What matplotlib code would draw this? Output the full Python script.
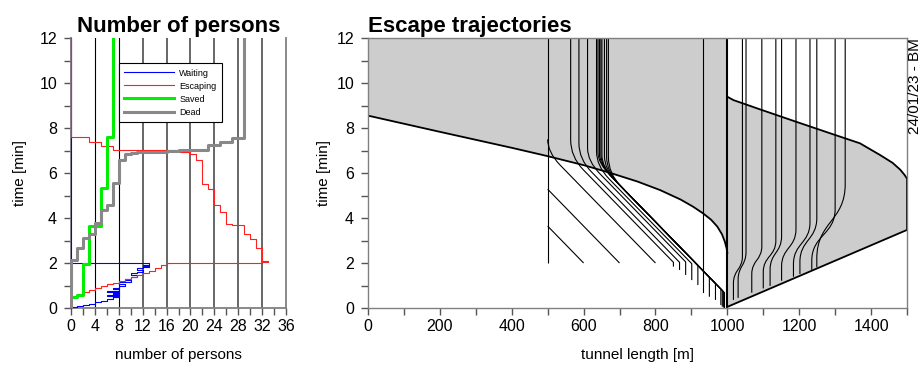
import matplotlib
matplotlib.use('Agg')
import matplotlib.pyplot as plt
from matplotlib.path import Path
from matplotlib.patches import PathPatch
from matplotlib.lines import Line2D
from matplotlib.ticker import MultipleLocator

plt.rcParams['font.family'] = ['Liberation Sans', 'DejaVu Sans']

# ---- number of persons: times [min] where the count changes, new count
wait_t = [0.00, 0.03, 0.08, 0.13, 0.20, 0.27, 0.33, 0.40, 0.47, 0.52, 0.56, 0.62, 0.66,
          0.72, 0.76, 0.84, 0.88, 0.98, 1.05, 1.17, 1.24, 1.30, 1.39, 1.47, 1.55, 1.62,
          1.70, 1.78, 1.84, 1.88, 1.93, 2.00, 12.0]
wait_n = [0, 1, 2, 3, 4, 5, 6, 7, 8, 6, 8, 7, 8,
          6, 8, 7, 8, 9, 8, 10, 9, 10, 11, 10, 11, 12,
          11, 12, 13, 12, 13, 0, 0]

esc_t = [0.00, 0.52, 0.62, 0.72, 0.80, 0.88, 0.96, 1.05, 1.12, 1.20, 1.30, 1.38, 1.47,
         1.55, 1.66, 1.80, 1.92, 2.00, 2.04, 2.10, 2.67, 3.08, 3.30, 3.67, 3.75, 4.27,
         4.56, 5.30, 5.50, 6.56, 6.83, 6.93, 7.04, 7.20, 7.38, 7.58, 12.0]
esc_n = [0, 1, 2, 3, 4, 5, 6, 7, 8, 9, 10, 11, 12,
         13, 14, 15, 16, 32, 33, 32, 31, 30, 29, 27, 26, 25,
         24, 23, 22, 21, 20, 18, 7, 5, 3, 0, 0]

saved_t = [0.00, 0.49, 0.60, 1.97, 3.64, 5.33, 7.60, 12.0]
saved_n = [0, 1, 2, 3, 5, 6, 7, 7]

dead_t = [0.00, 2.15, 2.68, 3.13, 3.30, 3.78, 4.34, 4.60, 5.55, 6.56, 6.86, 6.90,
          6.93, 6.98, 7.04, 7.23, 7.38, 7.57, 12.0]
dead_n = [0, 1, 2, 3, 4, 5, 6, 7, 8, 9, 10, 11, 16, 18, 23, 25, 27, 29, 29]

# ---- escape trajectories: smoke fronts [m], [min]
smoke_l_x = [0, 200, 400, 497, 600, 673, 750, 813, 870, 905, 933, 955, 972, 985, 993,
             998, 1000]
smoke_l_t = [8.55, 7.83, 7.12, 6.76, 6.35, 6.01, 5.62, 5.24, 4.82, 4.50, 4.20, 3.92,
             3.62, 3.28, 2.95, 2.65, 2.45]
smoke_r_x = [1000, 1017, 1096, 1191, 1300, 1369, 1425, 1460, 1481, 1493, 1500]
smoke_r_t = [9.39, 9.24, 8.80, 8.28, 7.69, 7.32, 6.80, 6.45, 6.15, 5.92, 5.75]
smoke_r_low_x = [1500, 1500, 1000]
smoke_r_low_t = [5.75, 3.47, 0.05]

# persons walking towards x = 500 m
walk_x0 = [500, 600, 700, 800, 850, 867, 884, 901, 918, 950, 967, 982, 986, 989, 992]
walk_t_app = [2.00, 2.00, 2.00, 2.00, 1.84, 1.69, 1.47, 1.24, 1.02, 0.50, 0.36, 0.13,
              0.06, 0.02, 0.00]
walk_t_go = [2.00, 2.00, 2.00, 2.00, 2.03, 2.03, 2.05, 1.97, 1.89, 1.37, 1.09, 0.84,
             0.78, 0.73, 0.68]
walk_x_stop = [500, 500, 500, 500, 564, 587, 611, 636, 640, 644, 648, 651, 658, 664, 669]
walk_t_corner = [2.00, 3.64, 5.28, 6.92, 6.72, 6.62, 6.53, 6.31, 6.45, 6.39, 6.32, 6.27,
                 6.16, 6.06, 5.98]
walk_t_stop = [2.00, 3.64, 5.28, 7.50, 7.47, 7.32, 7.10, 6.95, 6.90, 6.86, 6.82, 6.78,
               6.75, 6.72, 6.70]
walk_t_end = [12.0, 3.64, 5.28, 7.50, 12.0, 12.0, 12.0, 12.0, 12.0, 12.0, 12.0, 12.0,
              12.0, 12.0, 12.0]
stay_x = [933, 1000]
stay_t0 = [0.73, 0.0]

# persons beyond the portal (x > 1000 m)
right_x0 = [1017, 1030, 1068, 1100, 1119, 1151, 1184, 1202, 1235, 1249]
right_t_app = [0.36, 0.45, 0.68, 0.87, 0.98, 1.21, 1.39, 1.51, 1.69, 1.81]
right_t_go = [1.10, 1.25, 1.50, 1.60, 1.70, 1.85, 1.95, 2.05, 2.10, 2.20]
right_x_stop = [1042, 1052, 1096, 1135, 1151, 1191, 1230, 1249, 1300, 1328]
right_t_stop = [2.30, 2.50, 2.75, 3.00, 3.20, 3.50, 3.80, 4.00, 4.40, 5.50]

GRAY = '#cdcdcd'
SPINE = '#808080'

fig = plt.figure(figsize=(9.24, 3.69), dpi=100)

# ------------------------------------------------ left: number of persons
ax1 = fig.add_axes([71 / 924, 1 - 308 / 369, 215 / 924, 270 / 369])
for v in [4, 8]:
    ax1.axvline(v, color='black', lw=0.8, zorder=1)
for v in [12, 16, 20, 24, 28, 32]:
    ax1.axvline(v, color='#666666', lw=1.4, zorder=1)

ax1.step(wait_n, wait_t, where='pre', color='#0000ff', lw=0.8, zorder=3, clip_on=False)
ax1.step(esc_n, esc_t, where='pre', color='#ff2020', lw=0.8, zorder=3.1, clip_on=False)
ax1.step(saved_n, saved_t, where='pre', color='#00ee00', lw=2.2, zorder=4)
ax1.step(dead_n, dead_t, where='pre', color='#888888', lw=2.2, zorder=5)

ax1.set_xlim(0, 36)
ax1.set_ylim(0, 12)
ax1.xaxis.set_major_locator(MultipleLocator(4))
ax1.xaxis.set_minor_locator(MultipleLocator(2))
ax1.yaxis.set_major_locator(MultipleLocator(2))
ax1.yaxis.set_minor_locator(MultipleLocator(1))
ax1.spines['top'].set_visible(False)
for s in ['left', 'right', 'bottom']:
    ax1.spines[s].set_color(SPINE)
    ax1.spines[s].set_linewidth(1.3)
ax1.set_xlabel('number of persons', fontsize=11, labelpad=10)
ax1.set_ylabel('time [min]', fontsize=11, labelpad=9)
ax1.set_title('Number of persons', fontsize=16, fontweight='bold', pad=4)

handles = [Line2D([], [], color='#0000ff', lw=0.8),
           Line2D([], [], color='#ff2020', lw=0.8),
           Line2D([], [], color='#00ee00', lw=2.2),
           Line2D([], [], color='#888888', lw=2.2)]
leg = ax1.legend(handles, ['Waiting', 'Escaping', 'Saved', 'Dead'],
                 loc='upper left', bbox_to_anchor=(0.223, 0.907), borderaxespad=0,
                 fontsize=6.5, handlelength=5.5, handletextpad=0.6, labelspacing=0.45,
                 borderpad=0.6, fancybox=False, framealpha=1, edgecolor='black')
leg.get_frame().set_linewidth(0.8)
leg.set_zorder(6)

# ------------------------------------------------ right: escape trajectories
ax2 = fig.add_axes([368 / 924, 1 - 308 / 369, 539 / 924, 270 / 369])

ax2.fill_between(smoke_l_x, smoke_l_t, 12, color=GRAY, lw=0, zorder=1)
ax2.fill(smoke_r_x + smoke_r_low_x, smoke_r_t + smoke_r_low_t, color=GRAY, lw=0, zorder=1)
ax2.plot(smoke_l_x, smoke_l_t, color='black', lw=1.3, zorder=3)
ax2.plot(smoke_r_x + smoke_r_low_x, smoke_r_t + smoke_r_low_t, color='black', lw=1.3,
         zorder=3)

RADIUS = 35  # metres over which a walker slows down
for i in range(len(walk_x0)):
    x0, ta, tg = walk_x0[i], walk_t_app[i], walk_t_go[i]
    xs, tc, ts, te = walk_x_stop[i], walk_t_corner[i], walk_t_stop[i], walk_t_end[i]
    verts = [(x0, ta), (x0, tg)]
    codes = [Path.MOVETO, Path.LINETO]
    if ts > tc and x0 - xs > RADIUS:
        f = RADIUS / (x0 - xs)
        verts += [(xs + RADIUS, tc - f * (tc - tg)), (xs, tc), (xs, ts)]
        codes += [Path.LINETO, Path.CURVE3, Path.CURVE3]
    else:
        verts.append((xs, tc))
        codes.append(Path.LINETO)
    if te > ts:
        verts.append((xs, te))
        codes.append(Path.LINETO)
    ax2.add_patch(PathPatch(Path(verts, codes), fill=False, color='black', lw=0.8,
                            zorder=2))

for i in range(len(right_x0)):
    x0, ta, tg = right_x0[i], right_t_app[i], right_t_go[i]
    xs, ts = right_x_stop[i], right_t_stop[i]
    tm = (tg + ts) / 2
    verts = [(x0, ta), (x0, tg), (x0, tm), (xs, tm), (xs, ts), (xs, 12)]
    codes = [Path.MOVETO, Path.LINETO, Path.CURVE4, Path.CURVE4, Path.CURVE4, Path.LINETO]
    ax2.add_patch(PathPatch(Path(verts, codes), fill=False, color='black', lw=0.8,
                            zorder=2))

for x, t0 in zip(stay_x, stay_t0):
    ax2.plot([x, x], [t0, 12], color='black', lw=0.8 if x != 1000 else 1.5, zorder=3)

ax2.set_xlim(0, 1500)
ax2.set_ylim(0, 12)
ax2.xaxis.set_major_locator(MultipleLocator(200))
ax2.xaxis.set_minor_locator(MultipleLocator(100))
ax2.yaxis.set_major_locator(MultipleLocator(2))
ax2.yaxis.set_minor_locator(MultipleLocator(1))
for s in ax2.spines.values():
    s.set_color(SPINE)
    s.set_linewidth(1.0)
    s.set_zorder(4)
ax2.set_xlabel('tunnel length [m]', fontsize=11, labelpad=10)
ax2.set_ylabel('time [min]', fontsize=11, labelpad=4)
ax2.set_title('Escape trajectories', fontsize=16, fontweight='bold', loc='left', pad=4)

for ax in (ax1, ax2):
    ax.tick_params(which='both', direction='out', color='#555555', labelsize=11.5, pad=3)
    ax.tick_params(which='major', length=5, width=1.0)
    ax.tick_params(which='minor', length=5, width=1.0)
    ax.tick_params(axis='y', which='both', pad=5)

fig.text(0.99, 0.897, '24/01/23 - BM', rotation=90, ha='center', va='top', fontsize=11)

fig.savefig('out.png', dpi=100)
